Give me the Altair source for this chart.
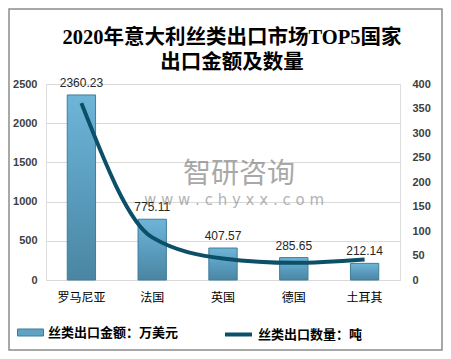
import altair as alt
import pandas as pd

countries = ["罗马尼亚", "法国", "英国", "德国", "土耳其"]
amounts = [2360.23, 775.11, 407.57, 285.65, 212.14]
quantities = [361, 87, 44, 35, 42]
amount_label = "丝类出口金额：万美元"
qty_label = "丝类出口数量：吨"
left_ticks = [0, 500, 1000, 1500, 2000, 2500]
right_ticks = [0, 50, 100, 150, 200, 250, 300, 350, 400]
title_lines = ["2020年意大利丝类出口市场TOP5国家", "出口金额及数量"]

df = pd.DataFrame({
    "country": countries,
    "amount": amounts,
    "qty": quantities,
    "label": [f"{v:.2f}" for v in amounts],
    "a_series": amount_label,
    "q_series": qty_label,
})
one = pd.DataFrame({"k": [0]})

FONT = "Noto Sans CJK SC"
W, H = 354, 196
PL, PT, PR, PB = 38, 76, 43, 71

x = alt.X("country:N", sort=countries,
          scale=alt.Scale(paddingInner=0.6, paddingOuter=0.3),
          axis=alt.Axis(title=None, labelAngle=0, ticks=False, domain=False,
                        labelPadding=12, labelFontSize=12, labelColor="#000000",
                        labelFont=FONT))

y_left = alt.Y("amount:Q", scale=alt.Scale(domain=[0, 2500]),
               axis=alt.Axis(values=left_ticks, format="d", title=None, grid=True,
                             gridColor="#d9d9d9", ticks=False, domain=False,
                             labelPadding=9, labelFontSize=11, labelFontWeight="bold",
                             labelColor="#404040", labelFont="Liberation Sans"))

gradient = alt.Gradient(
    gradient="linear", x1=0, y1=0, x2=0, y2=1,
    stops=[alt.GradientStop(color="#6fb5d8", offset=0),
           alt.GradientStop(color="#5a9dbf", offset=0.5),
           alt.GradientStop(color="#4a86a2", offset=1)])

bars = alt.Chart(df).mark_bar(fill=gradient, stroke="#3f7d99", strokeWidth=1).encode(
    x=x, y=y_left)

bar_legend = alt.Chart(df).mark_bar(opacity=0).encode(
    x=x,
    y=y_left,
    color=alt.Color("a_series:N",
                    scale=alt.Scale(range=["#5fa2c4"]),
                    legend=alt.Legend(title=None, orient="none", legendX=-29, legendY=235,
                                      symbolType="M-1,-0.27L1,-0.27L1,0.27L-1,0.27Z",
                                      symbolSize=676, symbolOpacity=1,
                                      symbolStrokeColor="#3f7d99", symbolStrokeWidth=1,
                                      labelFont=FONT, labelFontSize=13,
                                      labelFontWeight="bold", labelColor="#000000",
                                      labelOffset=4)))

labels = alt.Chart(df).mark_text(baseline="middle", dy=-12, fontSize=12,
                                 color="#262626", font="Liberation Sans").encode(
    x=x, y=y_left, text="label:N")

left_part = alt.layer(bars, bar_legend, labels)

line = alt.Chart(df).mark_line(interpolate="monotone", strokeWidth=4).encode(
    x=x,
    y=alt.Y("qty:Q", scale=alt.Scale(domain=[0, 400]),
            axis=alt.Axis(orient="right", values=right_ticks, title=None, grid=False,
                          ticks=False, domain=False, labelPadding=12, labelFontSize=11,
                          labelFontWeight="bold", labelColor="#404040",
                          labelFont="Liberation Sans")),
    stroke=alt.Stroke("q_series:N", scale=alt.Scale(range=["#0c4f68"]),
                      legend=alt.Legend(title=None, orient="none", legendX=177, legendY=235,
                                        symbolType="stroke", symbolSize=729,
                                        symbolStrokeWidth=4,
                                        labelFont=FONT, labelFontSize=13,
                                        labelFontWeight="bold", labelColor="#000000",
                                        labelOffset=4)))

wm1 = alt.Chart(one).mark_text(text="智研咨询", fontSize=28, font=FONT, color="#8c8c8c",
                               opacity=0.75, align="left", baseline="middle").encode(
    x=alt.value(137), y=alt.value(91))
wm2 = alt.Chart(one).mark_text(text="w w w . c h y x x . c o m", fontSize=15, font="DejaVu Sans",
                               color="#9a9a9a", opacity=0.75, align="center",
                               baseline="middle").encode(
    x=alt.value(188), y=alt.value(116))

title = alt.Chart(one).mark_text(text=title_lines, fontSize=20.5, fontWeight="bold",
                                 font="Liberation Serif, Noto Sans CJK SC", color="#000000",
                                 align="center", baseline="top", lineHeight=25).encode(
    x=alt.value(186), y=alt.value(-56))

border = alt.Chart(one).mark_rect(fillOpacity=0, stroke="#8c8c8c", strokeWidth=1.5).encode(
    x=alt.value(-PL + 1), x2=alt.value(W + PR - 1),
    y=alt.value(-PT + 1), y2=alt.value(H + PB - 1))

chart = alt.layer(wm1, wm2, left_part, line, title, border).resolve_scale(
    y="independent", color="independent", stroke="independent"
).properties(
    width=W, height=H,
    autosize=alt.AutoSizeParams(type="none"),
    padding={"left": PL, "top": PT, "right": PR, "bottom": PB},
).configure_view(stroke=None).configure(background="#ffffff")

chart.save("out.html", embed_options={"renderer": "svg", "actions": False})
